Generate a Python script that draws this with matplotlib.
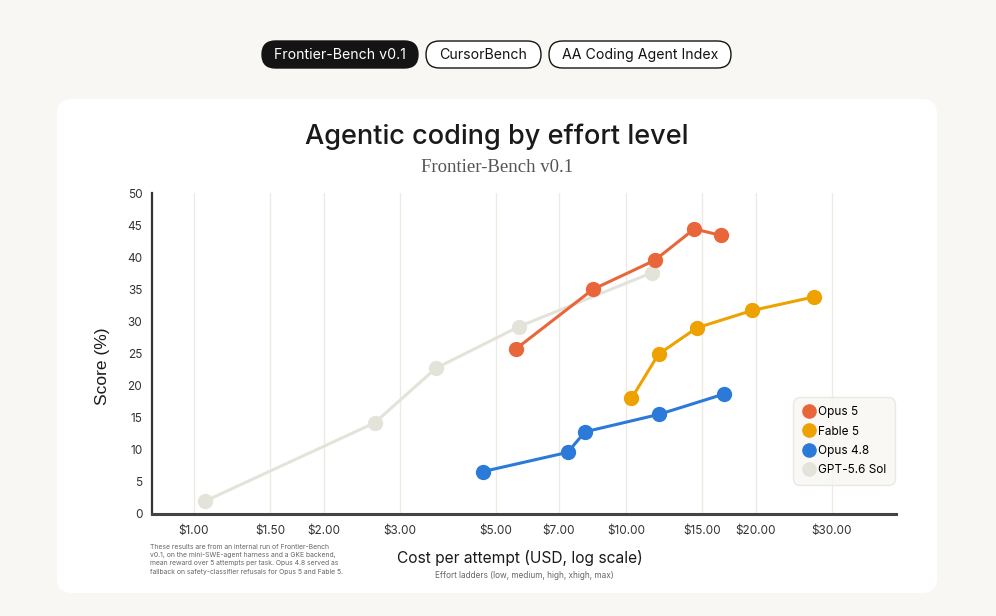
import numpy as np
import matplotlib
matplotlib.use("Agg")
import matplotlib.pyplot as plt
from matplotlib.patches import FancyBboxPatch
from matplotlib.lines import Line2D

# datos (costo USD, score %)
opus5_cost = [5.56, 8.39, 11.65, 14.4, 16.6]
opus5_score = [25.7, 35.0, 39.5, 44.4, 43.4]

fable5_cost = [10.3, 11.9, 14.6, 19.6, 27.2]
fable5_score = [18.0, 24.9, 29.0, 31.7, 33.8]

opus48_cost = [4.66, 7.33, 8.04, 11.9, 16.9]
opus48_score = [6.6, 9.6, 12.8, 15.5, 18.7]

gpt_cost = [1.06, 2.62, 3.63, 5.66, 11.5]
gpt_score = [2.0, 14.2, 22.7, 29.2, 37.6]

x_ticks = [1, 1.5, 2, 3, 5, 7, 10, 15, 20, 30]
x_labels = ["$1.00", "$1.50", "$2.00", "$3.00", "$5.00", "$7.00",
            "$10.00", "$15.00", "$20.00", "$30.00"]
y_ticks = list(range(0, 51, 5))

tabs = ["Frontier-Bench v0.1", "CursorBench", "AA Coding Agent Index"]

C_OPUS5 = "#E8663A"
C_FABLE = "#EDA200"
C_OPUS48 = "#2B7AD9"
C_GPT = "#E4E3D9"

W, H = 996, 616
fig = plt.figure(figsize=(W / 100, H / 100), dpi=100)
fig.patch.set_facecolor("#F8F7F4")

# fondo en pixeles
bg = fig.add_axes([0, 0, 1, 1], zorder=0)
bg.set_xlim(0, W)
bg.set_ylim(H, 0)
bg.axis("off")

# tarjeta blanca
bg.add_patch(FancyBboxPatch((57, 99), 880, 494,
                            boxstyle="round,pad=0,rounding_size=15",
                            fc="white", ec="none"))

# pestañas
tab_x = [(262, 418), (426, 541), (549, 731)]
for i, (t, (x0, x1)) in enumerate(zip(tabs, tab_x)):
    activa = i == 0
    bg.add_patch(FancyBboxPatch((x0, 41), x1 - x0, 27,
                                boxstyle="round,pad=0,rounding_size=13.5",
                                fc="#141414" if activa else "white",
                                ec="#141414", lw=1.0))
    bg.text((x0 + x1) / 2, 55, t, ha="center", va="center",
            fontsize=10.2, family="Inter",
            color="white" if activa else "#141414")

# titulos
fig.text(497 / W, 1 - 137 / H, "Agentic coding by effort level",
         ha="center", va="center", fontsize=19.5, family="Inter",
         weight="medium", color="#1A1A1A")
fig.text(497 / W, 1 - 168 / H, "Frontier-Bench v0.1", ha="center", va="center",
         fontsize=13.5, family="Liberation Serif", color="#555555")

# ejes principales
ax = fig.add_axes([152 / W, 1 - 514 / H, 744 / W, 321 / H], zorder=1)
ax.patch.set_alpha(0)
ax.set_xscale("log")
ax.set_xlim(0.7994, 42.2)
ax.set_ylim(0, 50)

ax.set_xticks(x_ticks)
ax.set_xticklabels(x_labels)
ax.xaxis.set_minor_locator(matplotlib.ticker.NullLocator())
ax.set_yticks(y_ticks)
ax.tick_params(length=0)
ax.tick_params(axis="x", pad=8, labelsize=8.5, labelcolor="#333333")
ax.tick_params(axis="y", pad=7, labelsize=8.5, labelcolor="#333333")
for lab in ax.get_xticklabels() + ax.get_yticklabels():
    lab.set_family("Inter")

ax.grid(True, axis="x", color="#ECEBE3", linewidth=1.0)
ax.set_axisbelow(True)
for s in ["top", "right"]:
    ax.spines[s].set_visible(False)
ax.spines["left"].set_color("#333333")
ax.spines["left"].set_linewidth(1.6)
ax.spines["bottom"].set_color("#444444")
ax.spines["bottom"].set_linewidth(2.2)

estilo = dict(marker="o", markersize=10, linewidth=2.2, clip_on=False)
ax.plot(gpt_cost, gpt_score, color=C_GPT, zorder=2, **estilo)
ax.plot(opus5_cost, opus5_score, color=C_OPUS5, zorder=3, **estilo)
ax.plot(fable5_cost, fable5_score, color=C_FABLE, zorder=3, **estilo)
ax.plot(opus48_cost, opus48_score, color=C_OPUS48, zorder=3, **estilo)

ax.set_ylabel("Score (%)", fontsize=12.5, family="Liberation Sans",
              color="#1A1A1A")
ax.yaxis.set_label_coords(-0.056, 0.461)

# leyenda
handles = [Line2D([], [], marker="o", ls="none", markersize=9.5, color=c)
           for c in [C_OPUS5, C_FABLE, C_OPUS48, C_GPT]]
leg = ax.legend(handles, ["Opus 5", "Fable 5", "Opus 4.8", "GPT-5.6 Sol"],
                loc="lower right", bbox_to_anchor=(0.999, 0.09),
                borderaxespad=0, frameon=True, handletextpad=0.2,
                borderpad=0.75, labelspacing=0.62, handlelength=1.2,
                prop={"family": "Inter", "size": 8.5})
leg.get_frame().set_facecolor("#F8F7F3")
leg.get_frame().set_edgecolor("#E6E4DC")
leg.get_frame().set_linewidth(1.0)
leg.get_frame().set_boxstyle("round,pad=0,rounding_size=0.6")

# textos inferiores
fig.text(520 / W, 1 - 558 / H, "Cost per attempt (USD, log scale)",
         ha="center", va="center", fontsize=11.2, family="Inter", color="#1A1A1A")
fig.text(524 / W, 1 - 576 / H, "Effort ladders (low, medium, high, xhigh, max)",
         ha="center", va="center", fontsize=5.9, family="Inter", color="#666666")
nota = ("These results are from an internal run of Frontier-Bench\n"
        "v0.1, on the mini-SWE-agent harness and a GKE backend,\n"
        "mean reward over 5 attempts per task. Opus 4.8 served as\n"
        "fallback on safety-classifier refusals for Opus 5 and Fable 5.")
fig.text(150 / W, 1 - 544 / H, nota, ha="left", va="top", fontsize=4.9,
         family="Inter", color="#666666", linespacing=1.45)

fig.savefig("out.png", dpi=100, facecolor=fig.get_facecolor())
